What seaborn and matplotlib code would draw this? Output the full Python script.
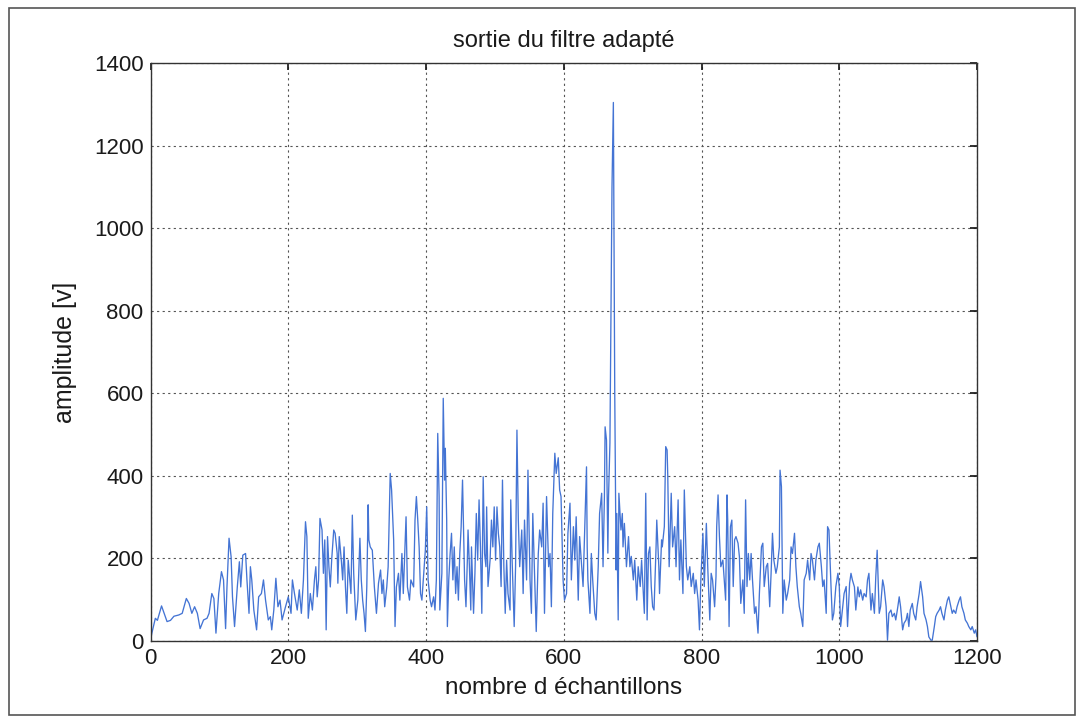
import pandas as pd
import matplotlib
matplotlib.use("Agg")
import matplotlib.pyplot as plt
import seaborn as sns
from matplotlib.patches import Rectangle

# --- valeurs (échantillon, amplitude) ---
echantillons = [
    0, 7, 10, 16, 24, 29, 34, 41, 46, 52, 56, 60, 64, 68, 72, 77, 82, 85, 89, 92,
    95, 99, 103, 106, 109, 111, 114, 117, 119, 122, 126, 129, 131, 134, 138, 140, 143, 145, 147, 150,
    154, 157, 161, 164, 167, 171, 174, 176, 179, 182, 185, 188, 191, 196, 200, 204, 206, 209, 213, 216,
    219, 222, 225, 227, 229, 232, 235, 238, 240, 242, 244, 246, 249, 251, 253, 255, 257, 259, 261, 263,
    266, 268, 271, 272, 274, 277, 279, 281, 283, 285, 287, 291, 293, 295, 298, 301, 304, 306, 308, 310,
    312, 314, 316, 317, 319, 322, 325, 328, 331, 334, 336, 338, 340, 343, 345, 348, 350, 353, 355, 357,
    360, 362, 365, 367, 371, 373, 376, 378, 382, 384, 386, 388, 390, 392, 394, 396, 399, 401, 403, 406,
    408, 411, 413, 415, 417, 419, 420, 423, 425, 427, 428, 430, 431, 433, 435, 437, 439, 441, 443, 445,
    447, 449, 451, 453, 456, 458, 460, 461, 463, 465, 466, 469, 471, 473, 475, 477, 479, 481, 483, 485,
    487, 488, 490, 493, 495, 497, 499, 501, 503, 505, 507, 509, 511, 513, 515, 517, 519, 522, 523, 525,
    528, 530, 532, 534, 536, 539, 541, 543, 546, 548, 551, 553, 555, 557, 560, 563, 565, 568, 570, 572,
    575, 578, 580, 582, 584, 587, 589, 592, 594, 596, 599, 601, 604, 606, 609, 611, 614, 616, 618, 621,
    623, 626, 628, 631, 633, 634, 635, 638, 640, 642, 645, 647, 650, 652, 655, 657, 659, 660, 662, 664,
    665, 667, 669, 670, 672, 674, 676, 677, 679, 680, 683, 685, 686, 688, 691, 694, 696, 698, 701, 703,
    706, 708, 711, 713, 715, 717, 719, 721, 723, 725, 727, 729, 731, 734, 735, 738, 739, 742, 743, 746,
    748, 750, 751, 753, 756, 758, 761, 763, 766, 768, 770, 773, 775, 778, 780, 783, 785, 788, 790, 792,
    795, 797, 799, 802, 804, 807, 809, 812, 814, 816, 819, 821, 822, 824, 826, 828, 831, 833, 835, 837,
    838, 840, 842, 844, 846, 848, 850, 853, 855, 857, 860, 862, 864, 866, 868, 870, 872, 874, 877, 879,
    882, 884, 887, 889, 891, 894, 896, 899, 901, 903, 905, 908, 910, 913, 914, 916, 918, 920, 923, 925,
    928, 930, 932, 935, 937, 939, 942, 944, 947, 949, 952, 954, 957, 959, 961, 964, 966, 969, 971, 974,
    976, 978, 981, 983, 985, 988, 990, 992, 995, 998, 1000, 1002, 1005, 1007, 1010, 1012, 1015, 1017, 1019, 1022,
    1024, 1027, 1029, 1031, 1034, 1036, 1039, 1041, 1043, 1046, 1048, 1051, 1053, 1055, 1057, 1058, 1060, 1063, 1065, 1068,
    1070, 1072, 1075, 1077, 1080, 1082, 1085, 1087, 1089, 1092, 1094, 1097, 1099, 1101, 1103, 1106, 1108, 1111, 1113, 1116,
    1118, 1121, 1123, 1126, 1128, 1130, 1133, 1135, 1138, 1140, 1142, 1145, 1147, 1149, 1152, 1154, 1157, 1159, 1162, 1164,
    1166, 1169, 1171, 1174, 1176, 1178, 1181, 1183, 1186, 1188, 1191, 1193, 1196, 1198, 1200,
]
amplitude = [
    5, 55, 50, 85, 47, 50, 60, 63, 67, 103, 91, 67, 83, 67, 30, 51, 55, 67, 115, 103,
    19, 115, 168, 148, 30, 131, 249, 204, 107, 35, 131, 192, 131, 208, 212, 148, 67, 180, 148, 75,
    27, 107, 115, 148, 99, 51, 59, 27, 75, 152, 83, 99, 51, 83, 107, 67, 148, 115, 75, 124,
    67, 148, 289, 253, 55, 115, 75, 148, 180, 107, 148, 297, 269, 164, 245, 27, 253, 180, 131, 196,
    269, 261, 212, 140, 253, 196, 148, 228, 131, 67, 196, 115, 305, 164, 51, 99, 249, 148, 99, 67,
    23, 131, 330, 245, 228, 220, 131, 67, 140, 172, 115, 148, 83, 131, 180, 406, 366, 245, 35, 131,
    164, 99, 212, 115, 301, 131, 99, 148, 131, 293, 350, 293, 228, 115, 99, 148, 220, 325, 148, 99,
    83, 107, 75, 148, 503, 350, 75, 164, 588, 390, 467, 293, 35, 148, 212, 261, 148, 228, 115, 180,
    99, 212, 277, 390, 148, 83, 196, 269, 180, 75, 228, 67, 164, 309, 196, 342, 228, 67, 398, 212,
    180, 325, 132, 196, 293, 228, 325, 196, 325, 261, 228, 132, 390, 180, 67, 196, 115, 75, 342, 196,
    35, 180, 511, 293, 180, 269, 115, 293, 148, 414, 148, 67, 309, 196, 23, 212, 269, 228, 334, 67,
    350, 180, 212, 83, 309, 455, 406, 444, 366, 350, 148, 99, 115, 261, 334, 148, 277, 196, 301, 99,
    253, 180, 132, 309, 422, 228, 148, 67, 212, 148, 67, 51, 180, 309, 358, 180, 350, 519, 487, 213,
    350, 480, 900, 1100, 1305, 600, 172, 309, 51, 358, 269, 309, 228, 285, 180, 253, 180, 205, 148, 196,
    99, 180, 132, 196, 132, 67, 358, 51, 212, 228, 132, 83, 75, 228, 293, 180, 115, 245, 228, 277,
    471, 463, 398, 180, 358, 228, 277, 180, 342, 148, 245, 115, 366, 180, 148, 180, 132, 164, 115, 148,
    99, 27, 148, 261, 132, 285, 180, 51, 164, 148, 83, 156, 277, 354, 253, 180, 196, 148, 99, 354,
    293, 35, 277, 293, 132, 245, 253, 237, 204, 91, 148, 67, 342, 132, 212, 148, 212, 148, 67, 83,
    19, 115, 228, 237, 132, 180, 188, 83, 164, 261, 196, 164, 180, 228, 414, 374, 67, 148, 99, 115,
    148, 228, 212, 261, 180, 132, 83, 67, 35, 148, 164, 196, 148, 212, 196, 148, 196, 228, 237, 180,
    132, 148, 67, 277, 269, 132, 51, 67, 132, 164, 132, 35, 83, 115, 132, 35, 140, 164, 148, 131,
    75, 131, 107, 124, 99, 115, 107, 148, 164, 75, 115, 67, 156, 220, 115, 67, 83, 148, 131, 83,
    2, 67, 75, 59, 67, 51, 83, 107, 83, 27, 43, 51, 67, 35, 75, 91, 67, 51, 83, 115,
    144, 107, 67, 51, 35, 10, 2, 2, 35, 59, 67, 75, 83, 67, 51, 75, 99, 107, 83, 67,
    75, 67, 83, 99, 107, 83, 67, 51, 43, 35, 27, 35, 19, 27, 10,
]

x_ticks = [0, 200, 400, 600, 800, 1000, 1200]
y_ticks = [0, 200, 400, 600, 800, 1000, 1200, 1400]

df = pd.DataFrame({"echantillon": echantillons, "amplitude": amplitude})

sns.set_theme(style="white")
plt.rcParams["font.family"] = ["Liberation Sans", "DejaVu Sans"]

fig = plt.figure(figsize=(10.79, 7.19), dpi=100)
ax = fig.add_axes([0.1395, 0.1085, 0.766, 0.8035])

sns.lineplot(data=df, x="echantillon", y="amplitude", ax=ax,
             color="#4474d4", linewidth=0.95, estimator=None, sort=False)

ax.set_xlim(0, 1200)
ax.set_ylim(0, 1400)
ax.set_xticks(x_ticks)
ax.set_yticks(y_ticks)
ax.tick_params(direction="in", length=5, labelsize=16, colors="#1a1a1a",
               top=True, right=True, pad=5)
ax.grid(True, linestyle=(0, (2, 3)), color="#555555", linewidth=0.8)
for s in ax.spines.values():
    s.set_color("#333333")
    s.set_linewidth(1.0)

ax.set_title("sortie du filtre adapté", fontsize=17, color="#1a1a1a", pad=12)
ax.set_xlabel("nombre d échantillons", fontsize=17.5, color="#1a1a1a", labelpad=6)
ax.set_ylabel("amplitude [v]", fontsize=18, color="#1a1a1a", labelpad=12)

# cadre de la page scannée
fig.patches.append(Rectangle((0.008, 0.006), 0.988, 0.983, transform=fig.transFigure,
                             fill=False, edgecolor="#555555", linewidth=1.2))

fig.savefig("out.png", dpi=100)
